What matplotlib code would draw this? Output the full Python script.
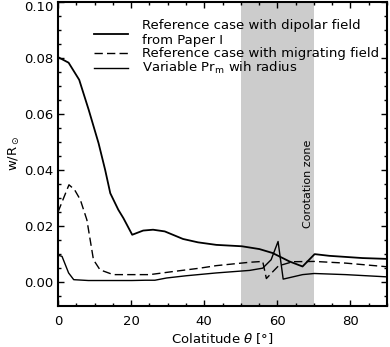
import matplotlib
matplotlib.use("Agg")
import matplotlib.pyplot as plt
import matplotlib.transforms as mtransforms
from matplotlib.ticker import MultipleLocator, FormatStrFormatter

# Reference case with dipolar field (Paper I)
x_dip = [0, 2.9, 5.8, 8.4, 11.1, 12.9, 14.3, 16.5, 17.9, 20.3, 23.3, 26.0, 29.2,
         34.2, 38.3, 43.3, 50.3, 55.1, 58.7, 63.3, 66.9, 70.2, 74.2, 83.3, 90]
y_dip = [0.0802, 0.0782, 0.0721, 0.0614, 0.0495, 0.0400, 0.0317, 0.0258, 0.0228,
         0.0169, 0.0184, 0.0187, 0.0181, 0.0154, 0.0142, 0.0133, 0.0128, 0.0118,
         0.0104, 0.0074, 0.0056, 0.0100, 0.0094, 0.0086, 0.0083]

# Reference case with migrating field
x_mig = [0, 2.1, 3.0, 4.5, 6.1, 7.9, 9.7, 11.5, 15.1, 25.1, 31.5, 38.8, 43.3,
         52.4, 56.0, 57.0, 58.8, 60.3, 64.2, 70.1, 78.7, 90]
y_mig = [0.0250, 0.0318, 0.0347, 0.0330, 0.0294, 0.0222, 0.0080, 0.0044, 0.0027,
         0.0027, 0.0038, 0.0050, 0.0059, 0.0071, 0.0074, 0.0013, 0.0038, 0.0058,
         0.0073, 0.0074, 0.0068, 0.0055]

# Variable Pr_m with radius
x_prm = [0, 1.1, 2.9, 4.3, 8.3, 20.2, 23.9, 26.5, 29.7, 35.1, 43.3, 52.4, 56.0,
         58.3, 60.2, 61.6, 66.9, 70.1, 78.7, 90]
y_prm = [0.0096, 0.0092, 0.0033, 0.0009, 0.0006, 0.0006, 0.0007, 0.0007, 0.0015,
         0.0023, 0.0033, 0.0042, 0.0050, 0.0080, 0.0145, 0.0011, 0.0027, 0.0031,
         0.0027, 0.0019]

corot_zone = (50, 70)
labels = ["Reference case with dipolar field\nfrom Paper I",
          "Reference case with migrating field",
          "Variable Pr$_\\mathregular{m}$ wih radius"]

plt.rcParams['font.family'] = ['DejaVu Sans']
plt.rcParams['mathtext.default'] = 'regular'

fig = plt.figure(figsize=(3.9, 3.47), dpi=100)
ax = fig.add_axes([58/390, 1 - 305.5/347, (387-58)/390, (305.5-1.5)/347])

ax.axvspan(corot_zone[0], corot_zone[1], color='#cccccc', lw=0, zorder=0)
ax.plot(x_dip, y_dip, color='black', lw=1.3, label=labels[0])
ax.plot(x_mig, y_mig, color='black', lw=1.0, linestyle=(0, (6, 3)), label=labels[1])
ax.plot(x_prm, y_prm, color='black', lw=1.0, label=labels[2])

ax.text(68.3, 0.0508, "Corotation zone", rotation=90, ha='center', va='top', fontsize=8)

ax.set_xlim(0, 90)
ax.set_ylim(-0.0083, 0.10)
ax.xaxis.set_major_locator(MultipleLocator(20))
ax.xaxis.set_minor_locator(MultipleLocator(5))
ax.yaxis.set_major_locator(MultipleLocator(0.02))
ax.yaxis.set_minor_locator(MultipleLocator(0.005))
ax.tick_params(which='both', direction='in', top=True, right=True, width=1.0, labelsize=9.5)
ax.tick_params(axis='x', which='major', length=4, pad=7)
ax.tick_params(axis='x', which='minor', length=2)
ax.tick_params(axis='y', which='major', length=4.5, pad=3.5)
ax.tick_params(axis='y', which='minor', length=2.5)
ax.yaxis.set_major_formatter(FormatStrFormatter('%.2f'))
for s in ax.spines.values():
    s.set_linewidth(1.5)

ax.set_xlabel("Colatitude $\\it{\\theta}$ [°]", fontsize=9.5, labelpad=2)
ax.set_ylabel("w/R$_\\odot$", fontsize=9.5, labelpad=1)

ax.legend(loc='upper left', bbox_to_anchor=(0.11, 0.942), frameon=False, fontsize=9.5,
          handlelength=2.6, handletextpad=1.0, labelspacing=0.0, borderpad=0, borderaxespad=0)

# keep the top tick label inside the figure (shift it slightly down)
fig.canvas.draw()
shift = mtransforms.ScaledTranslation(0, -4/100, fig.dpi_scale_trans)
for tick in ax.yaxis.get_major_ticks():
    if abs(tick.get_loc() - 0.10) < 1e-9:
        tick.label1.set_transform(tick.label1.get_transform() + shift)

fig.savefig("out.png", dpi=100)
